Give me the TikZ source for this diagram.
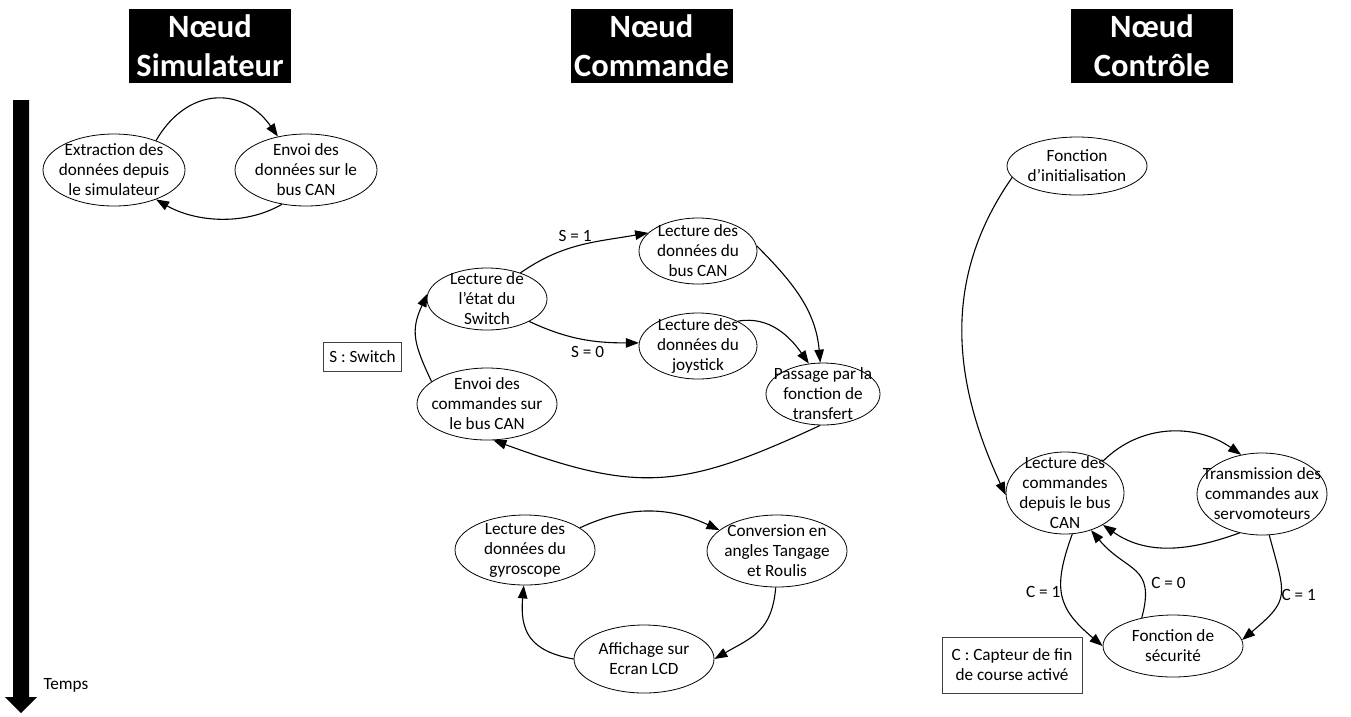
\documentclass[tikz,border=0pt]{standalone}
\usepackage{fontspec}
\setmainfont{Carlito}
\usetikzlibrary{shapes.geometric,arrows.meta}
\newcommand\etatfont{\fontsize{17.2}{20}\selectfont}
\newcommand\titrefont{\fontsize{32.5}{39}\selectfont\bfseries}
\tikzset
{
    etat/.style    = {ellipse, draw=black, line width=0.8pt, align=center, inner xsep=-22pt, inner ysep=-16pt, font=\etatfont},
    titre/.style   = {rectangle, fill=black, text=white, align=center, minimum width=162, minimum height=74, font=\titrefont},
    legende/.style = {rectangle, draw=black!75, line width=0.8pt, align=center, font=\etatfont},
    fleche/.style  = {line width=1.1pt, -{Triangle[length=13pt, width=9.5pt]}},
    cond/.style    = {font=\etatfont, inner sep=1pt}
}

\begin{document}
\begin{tikzpicture}[x=1pt, y=1pt]
		\useasboundingbox (0,0) rectangle (1351,-716);
		% titres
		\node (tsim)	[titre] 	at (210,-46)    	{Nœud\\Simulateur};
		\node (tcom)	[titre] 	at (651.5,-46)  	{Nœud\\Commande};
		\node (tctl)	[titre] 	at (1152,-46)   	{Nœud\\Contrôle};
		% axe du temps
		\fill (13,-100) -- (29,-100) -- (29,-697) -- (37,-697) -- (21,-713) -- (5,-697) -- (13,-697) -- cycle;
		\node (temps)	[anchor=west, font=\etatfont] 	at (40,-685) 	{Temps};
		% noeud simulateur
		\node (ext)		[etat, minimum width=142, minimum height=72] 	at (114,-170) 	{Extraction des\\données depuis\\le simulateur};
		\node (envs)	[etat, minimum width=142, minimum height=72] 	at (306,-170) 	{Envoi des\\données sur le\\bus CAN};
		\draw[fleche] (ext.35) to[out=60, in=125, looseness=1.3] (envs.130);
		\draw[fleche] (envs.235) to[out=210, in=-30, looseness=0.9] (ext.325);
		% noeud commande
		\node (sw)		[etat, minimum width=120, minimum height=62] 	at (487,-299) 	{Lecture de\\l’état du\\Switch};
		\node (bus)		[etat, minimum width=118, minimum height=66] 	at (698,-251) 	{Lecture des\\données du\\bus CAN};
		\node (joy)		[etat, minimum width=118, minimum height=66] 	at (698,-346) 	{Lecture des\\données du\\joystick};
		\node (pass)	[etat, minimum width=114, minimum height=62] 	at (823,-394) 	{Passage par la\\fonction de\\transfert};
		\node (envc)	[etat, minimum width=140, minimum height=72] 	at (487,-404) 	{Envoi des\\commandes sur\\le bus CAN};
		\node (legs)	[legende, anchor=east, minimum height=29, inner xsep=6pt] 	at (402,-357) 	{S : Switch};
		\draw[fleche] (sw.38) to[out=35, in=190] node[cond, pos=0.45, above=3pt] {S = 1} (bus.160);
		\draw[fleche] (sw.-28) to[out=-25, in=180] node[cond, pos=0.55, below=5pt] {S = 0} (joy.177);
		\draw[fleche] (bus.5) to[out=-45, in=95] (pass.95);
		\draw[fleche] (joy.32) to[out=10, in=125] (pass.115);
		\draw[fleche] (pass.265) to[out=205, in=-20, looseness=1.2] (envc.280);
		\draw[fleche] (envc.158) to[out=115, in=245, looseness=1.2] (sw.175);
		% gyroscope
		\node (gyro)	[etat, minimum width=140, minimum height=70] 	at (525,-550) 	{Lecture des\\données du\\gyroscope};
		\node (conv)	[etat, minimum width=140, minimum height=72] 	at (777,-551) 	{Conversion en\\angles Tangage\\et Roulis};
		\node (aff)		[etat, minimum width=140, minimum height=68] 	at (644,-659) 	{Affichage sur\\Ecran LCD};
		\draw[fleche] (gyro.22) to[out=25, in=155] (conv.160);
		\draw[fleche] (conv.268) to[out=-95, in=30, looseness=1.2] (aff.0);
		\draw[fleche] (aff.180) to[out=170, in=-95, looseness=1.3] (gyro.268);
		% noeud controle
		\node (init)	[etat, minimum width=140, minimum height=58] 	at (1077,-166) 	{Fonction\\d’initialisation};
		\node (lec)		[etat, minimum width=118, minimum height=82] 	at (1065,-493) 	{Lecture des\\commandes\\depuis le bus\\CAN};
		\node (trans)	[etat, minimum width=130, minimum height=82] 	at (1262,-494) 	{Transmission des\\commandes aux\\servomoteurs};
		\node (secu)	[etat, minimum width=140, minimum height=62] 	at (1173,-646) 	{Fonction de\\sécurité};
		\node (legc)	[legende, minimum width=140, minimum height=56] 	at (1012,-665) 	{C : Capteur de fin\\de course activé};
		\draw[fleche] (init.190) to[out=235, in=115] (lec.182);
		\draw[fleche] (lec.40) to[out=45, in=145] (trans.118);
		\draw[fleche] (trans.240) to[out=200, in=-35] (lec.320);
		\draw[fleche] (lec.280) to[out=250, in=140, looseness=1.3] node[cond, pos=0.45, left] {C = 1} (secu.180);
		\draw[fleche] (secu.138) to[out=75, in=-50, looseness=1.4] node[cond, pos=0.3, right=6pt] {C = 0} (lec.305);
		\draw[fleche] (trans.280) to[out=-75, in=40, looseness=1.5] node[cond, pos=0.5, right] {C = 1} (secu.5);
	\end{tikzpicture}
\end{document}
